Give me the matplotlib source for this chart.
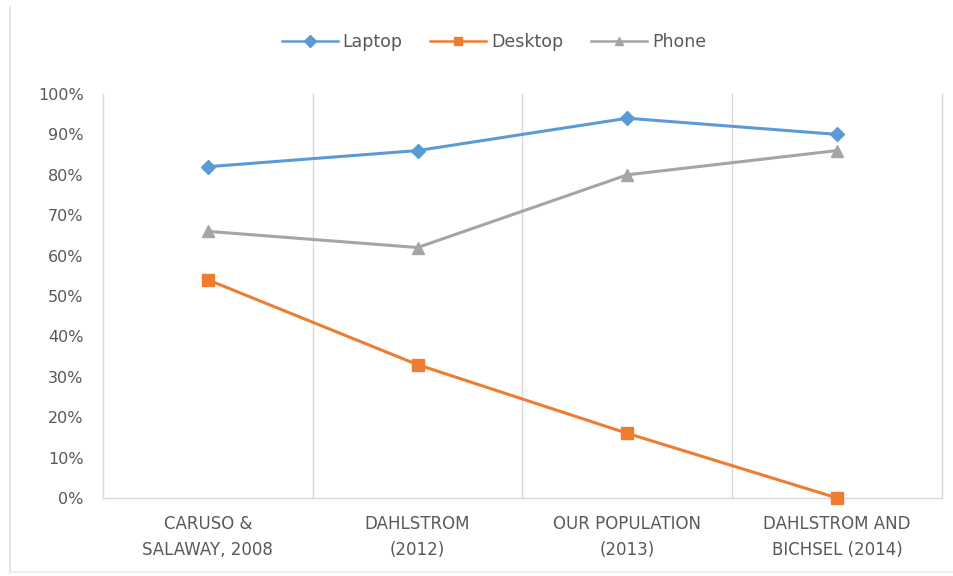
import matplotlib
matplotlib.use("Agg")
import matplotlib.pyplot as plt
from matplotlib.lines import Line2D
from matplotlib.ticker import PercentFormatter

categories = ["CARUSO &\nSALAWAY, 2008", "DAHLSTROM\n(2012)",
              "OUR POPULATION\n(2013)", "DAHLSTROM AND\nBICHSEL (2014)"]
laptop = [0.82, 0.86, 0.94, 0.90]
desktop = [0.54, 0.33, 0.16, 0.00]
phone = [0.66, 0.62, 0.80, 0.86]
series_names = ["Laptop", "Desktop", "Phone"]

plt.rcParams['font.family'] = ['DejaVu Sans']

fig = plt.figure(figsize=(9.54, 5.76), dpi=100)
fig.patch.set_facecolor("white")
ax = fig.add_axes([103/954, 78/576, (942-103)/954, (498-94)/576])

x = list(range(len(categories)))
ax.plot(x, laptop, color="#5B9BD5", lw=2.2, marker="D", ms=7, label=series_names[0], zorder=3)
ax.plot(x, desktop, color="#ED7D31", lw=2.2, marker="s", ms=8, label=series_names[1], zorder=3, clip_on=False)
ax.plot(x, phone, color="#A5A5A5", lw=2.2, marker="^", ms=9, label=series_names[2], zorder=3)

ax.set_xlim(-0.5, len(categories) - 0.5)
ax.set_ylim(0, 1.0)
ax.set_yticks([i / 10 for i in range(11)])
ax.yaxis.set_major_formatter(PercentFormatter(1.0, decimals=0))
ax.set_xticks(x)
ax.set_xticklabels(categories, fontsize=12, color="#595959", linespacing=1.6)
ax.tick_params(axis="y", labelsize=11.5, labelcolor="#595959", length=0, pad=14)
ax.tick_params(axis="x", length=0, pad=12)

# vertical gridlines at category boundaries
for b in [i - 0.5 for i in range(len(categories) + 1)]:
    ax.axvline(b, color="#D9D9D9", lw=1, zorder=1, clip_on=False)

for s in ["top", "right", "left"]:
    ax.spines[s].set_visible(False)
ax.spines["bottom"].set_color("#D9D9D9")
ax.spines["bottom"].set_linewidth(1)

leg = fig.legend(loc="center", bbox_to_anchor=(494/954, 1 - 42/576), ncol=3,
                 frameon=False, fontsize=12.5, handlelength=3.2, columnspacing=1.6,
                 handletextpad=0.3)
for t in leg.get_texts():
    t.set_color("#595959")
for h in leg.legend_handles:
    h.set_markersize(6)
    h.set_linewidth(1.8)

# faint chart border
fig.add_artist(Line2D([10/954, 10/954], [3/576, 1 - 7/576], transform=fig.transFigure,
                      color="#E6E6E6", lw=1.5))
fig.add_artist(Line2D([10/954, 1], [4/576, 4/576], transform=fig.transFigure,
                      color="#EEEEEE", lw=1.5))

fig.savefig("out.png", dpi=100, facecolor="white")
